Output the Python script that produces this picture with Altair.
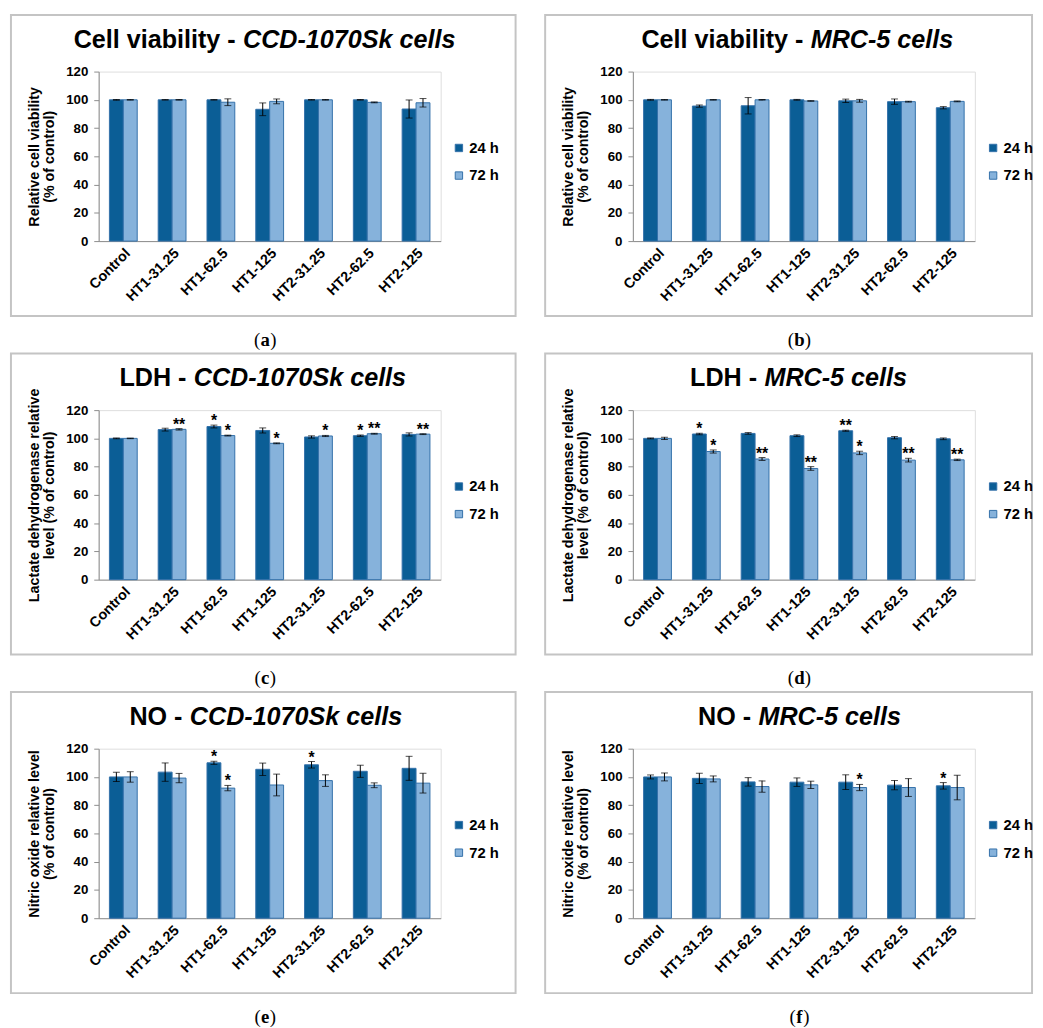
import altair as alt
import pandas as pd

categories = ["Control", "HT1-31.25", "HT1-62.5", "HT1-125", "HT2-31.25", "HT2-62.5", "HT2-125"]
times = ["24 h", "72 h"]

# (a) Cell viability - CCD-1070Sk
a_24 = [100, 100, 100, 93.3, 100, 100, 93.5]
a_24_err = [0.3, 0.2, 0.2, 4.5, 0.2, 0.2, 6.4]
a_72 = [100, 100, 98.3, 98.9, 100, 98.2, 97.9]
a_72_err = [0.2, 0.2, 2.4, 1.7, 0.2, 0.3, 3.0]
a_s24 = ["", "", "", "", "", "", ""]
a_s72 = ["", "", "", "", "", "", ""]

# (b) Cell viability - MRC-5
b_24 = [100, 95.6, 95.8, 100, 99.3, 98.7, 94.4]
b_24_err = [0.3, 0.8, 5.8, 0.3, 1.2, 1.9, 0.8]
b_72 = [100, 100, 100, 99.2, 99.3, 98.7, 98.9]
b_72_err = [0.2, 0.2, 0.2, 0.2, 1.0, 0.3, 0.3]
b_s24 = ["", "", "", "", "", "", ""]
b_s72 = ["", "", "", "", "", "", ""]

# (c) LDH - CCD-1070Sk
c_24 = [100, 106.2, 108.4, 105.6, 101.0, 101.9, 102.8]
c_24_err = [0.3, 1.0, 1.0, 1.8, 0.8, 0.5, 1.1]
c_72 = [100, 106.4, 102.0, 96.5, 101.7, 103.3, 103.0]
c_72_err = [0.2, 0.5, 0.3, 0.3, 0.4, 0.3, 0.3]
c_s24 = ["", "", "*", "", "", "*", ""]
c_s72 = ["", "**", "*", "*", "*", "**", "**"]

# (d) LDH - MRC-5
d_24 = [100, 103.1, 103.5, 101.9, 105.4, 100.5, 99.7]
d_24_err = [0.3, 0.5, 0.6, 0.6, 0.4, 0.8, 0.6]
d_72 = [100, 90.7, 85.4, 78.7, 89.7, 84.6, 84.8]
d_72_err = [0.8, 1.1, 1.0, 1.3, 1.2, 1.3, 0.5]
d_s24 = ["", "*", "", "", "**", "", ""]
d_s72 = ["", "*", "**", "**", "*", "**", "**"]

# (e) NO - CCD-1070Sk
e_24 = [100, 103.4, 110.0, 105.4, 108.6, 104.0, 106.1]
e_24_err = [3.3, 6.5, 1.1, 4.4, 2.3, 4.3, 8.5]
e_72 = [100, 99.2, 92.1, 94.3, 97.4, 94.1, 95.6]
e_72_err = [3.7, 3.3, 1.9, 7.7, 4.1, 1.7, 7.0]
e_s24 = ["", "", "*", "", "*", "", ""]
e_s72 = ["", "", "*", "", "", "", ""]

# (f) NO - MRC-5
f_24 = [100, 99.0, 96.5, 96.3, 96.3, 94.2, 93.7]
f_24_err = [1.4, 3.6, 3.0, 3.0, 5.2, 3.3, 2.3]
f_72 = [100, 98.6, 93.2, 94.4, 92.5, 92.5, 92.5]
f_72_err = [2.8, 2.1, 4.0, 2.6, 2.2, 6.3, 8.7]
f_s24 = ["", "", "", "", "", "", "*"]
f_s72 = ["", "", "", "", "*", "", ""]

titles_regular = ["Cell viability -", "Cell viability -", "LDH -", "LDH -", "NO -", "NO -"]
titles_italic = ["CCD-1070Sk cells", "MRC-5 cells", "CCD-1070Sk cells", "MRC-5 cells",
                 "CCD-1070Sk cells", "MRC-5 cells"]
y_titles = [
    ["Relative cell viability", "(% of control)"],
    ["Relative cell viability", "(% of control)"],
    ["Lactate dehydrogenase relative", "level (% of control)"],
    ["Lactate dehydrogenase relative", "level (% of control)"],
    ["Nitric oxide relative level", "(% of control)"],
    ["Nitric oxide relative level", "(% of control)"],
]
letters = ["a", "b", "c", "d", "e", "f"]

series = [
    (a_24, a_24_err, a_72, a_72_err, a_s24, a_s72),
    (b_24, b_24_err, b_72, b_72_err, b_s24, b_s72),
    (c_24, c_24_err, c_72, c_72_err, c_s24, c_s72),
    (d_24, d_24_err, d_72, d_72_err, d_s24, d_s72),
    (e_24, e_24_err, e_72, e_72_err, e_s24, e_s72),
    (f_24, f_24_err, f_72, f_72_err, f_s24, f_s72),
]

# layout (pixels, relative to each plot area)
W, H = 347, 172
title_split = [139, 173, 89, 126, 85, 120]
letter_half = {"a": 4.6, "b": 5.0, "c": 4.1, "d": 5.0, "e": 4.1, "f": 3.3}

DARK = "#0B5E96"
LIGHT = "#86B2DB"
EDGE = "#3471AA"
GREY = "#8C8C8C"
SANS = "Liberation Sans"
SERIF = "Liberation Serif"


def panel(k):
    m24, e24, m72, e72, s24, s72 = series[k]
    rows = []
    for i, c in enumerate(categories):
        rows.append(dict(cat=c, time=times[0], val=m24[i], lo=m24[i] - e24[i], hi=m24[i] + e24[i], sig=s24[i]))
        rows.append(dict(cat=c, time=times[1], val=m72[i], lo=m72[i] - e72[i], hi=m72[i] + e72[i], sig=s72[i]))
    df = pd.DataFrame(rows)
    one = pd.DataFrame({"k": [0]})
    right_col = k % 2 == 1

    xaxis = alt.Axis(labelAngle=-45, labelFontSize=14.5, labelFontWeight="bold", labelColor="black",
                     labelFont=SANS, ticks=False, domainColor=GREY, domainWidth=1, labelPadding=5)
    yaxis = alt.Axis(values=[0, 20, 40, 60, 80, 100, 120], tickSize=5, tickColor=GREY, domainColor=GREY,
                     labelFontSize=13.5, labelFontWeight="bold", labelColor="black", labelFont=SANS,
                     labelPadding=6, titleFontSize=14.5, titleFontWeight="bold", titleColor="black",
                     titleFont=SANS, titleLineHeight=16, titlePadding=9, grid=False)
    xscale = alt.Scale(paddingInner=0.43, paddingOuter=0.22)
    yscale = alt.Scale(domain=[0, 120], nice=False)

    def X():
        return alt.X("cat:N", sort=categories, scale=xscale, axis=xaxis, title=None)

    def XO():
        return alt.XOffset("time:N", sort=times, scale=alt.Scale(paddingInner=0, paddingOuter=0))

    def Y(field):
        return alt.Y(field, scale=yscale, axis=yaxis, title=y_titles[k])

    base = alt.Chart(df)

    border = alt.Chart(one).mark_rect(fill="transparent", stroke="#C4C4C4", strokeWidth=2).encode(
        x=alt.value(-89), x2=alt.value(W + (58 if right_col else 76)),
        y=alt.value(-57.5), y2=alt.value(H + 76))

    bars = base.mark_bar(stroke=EDGE, strokeWidth=1).encode(
        x=X(), xOffset=XO(), y=Y("val:Q"),
        color=alt.Color("time:N", sort=times, scale=alt.Scale(domain=times, range=[DARK, LIGHT]),
                        legend=alt.Legend(title=None, orient="none", legendX=W + 11, legendY=70,
                                          symbolType="square", symbolSize=56, symbolStrokeColor=EDGE,
                                          symbolStrokeWidth=1, labelFontSize=15, labelFont=SANS,
                                          labelFontWeight="bold", labelColor="black", rowPadding=12,
                                          labelOffset=3, padding=0)))

    rules = base.mark_rule(color="black", strokeWidth=1).encode(
        x=X(), xOffset=XO(), y=Y("lo:Q"), y2="hi:Q")
    cap_lo = base.mark_tick(color="black", size=7, thickness=1).encode(x=X(), xOffset=XO(), y=Y("lo:Q"))
    cap_hi = base.mark_tick(color="black", size=7, thickness=1).encode(x=X(), xOffset=XO(), y=Y("hi:Q"))
    stars = base.mark_text(font=SANS, fontSize=16, fontWeight="bold", baseline="alphabetic", dy=1,
                           color="black").encode(x=X(), xOffset=XO(), y=Y("hi:Q"), text="sig:N")

    split = title_split[k]
    t_reg = alt.Chart(one).mark_text(font=SANS, fontSize=25.5, fontWeight="bold", align="right",
                                     baseline="alphabetic", color="black",
                                     text=titles_regular[k]).encode(x=alt.value(split), y=alt.value(-24))
    t_ita = alt.Chart(one).mark_text(font=SANS, fontSize=25.5, fontWeight="bold", fontStyle="italic",
                                     align="left", baseline="alphabetic", color="black",
                                     text=titles_italic[k]).encode(x=alt.value(split + 7.5), y=alt.value(-24))

    L = letters[k]
    cx = 169
    hw = letter_half[L]
    ly = H + 100
    lab_l = alt.Chart(one).mark_text(font=SERIF, fontSize=19, align="right", baseline="middle",
                                     color="black", text="(").encode(x=alt.value(cx - hw - 0.5), y=alt.value(ly))
    lab_m = alt.Chart(one).mark_text(font=SERIF, fontSize=19, fontWeight="bold", align="center",
                                     baseline="middle", color="black", text=L).encode(x=alt.value(cx), y=alt.value(ly))
    lab_r = alt.Chart(one).mark_text(font=SERIF, fontSize=19, align="left", baseline="middle",
                                     color="black", text=")").encode(x=alt.value(cx + hw + 0.5), y=alt.value(ly))

    return alt.layer(border, bars, rules, cap_lo, cap_hi, stars, t_reg, t_ita, lab_l, lab_m, lab_r).properties(
        width=W, height=H)


res = dict(x="independent", y="independent", color="independent", xOffset="independent")
rows = []
for r in range(3):
    rows.append(alt.hconcat(panel(2 * r), panel(2 * r + 1), spacing=26).resolve_scale(**res))

chart = alt.vconcat(*rows, spacing=1.5).resolve_scale(**res).properties(
    padding={"left": 1, "top": -2, "right": 0, "bottom": 0}
).configure_view(strokeWidth=0).configure(font=SANS)

chart.save("out.html", embed_options={"renderer": "svg", "actions": False})
